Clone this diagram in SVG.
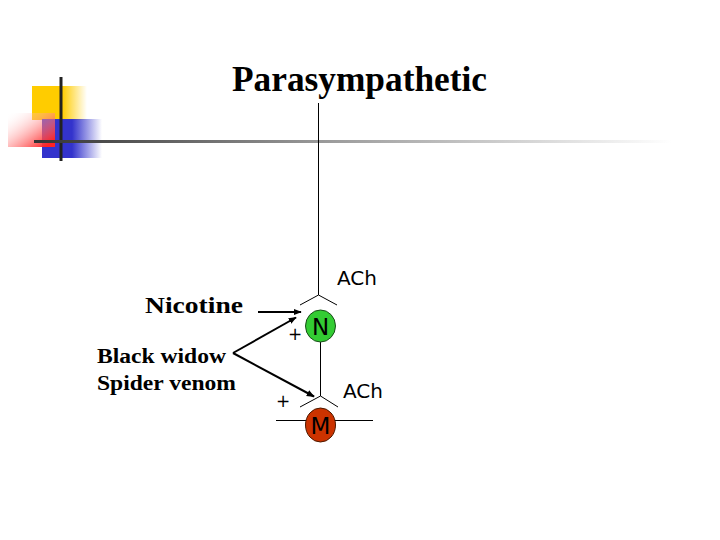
<svg xmlns="http://www.w3.org/2000/svg" width="720" height="540" viewBox="0 0 720 540">
<defs>
<linearGradient id="gY" x1="0" y1="0" x2="1" y2="0"><stop offset="0" stop-color="#ffcc00"/><stop offset="0.55" stop-color="#ffcc00"/><stop offset="1" stop-color="#ffcc00" stop-opacity="0"/></linearGradient>
<linearGradient id="gR" x1="0" y1="0" x2="1" y2="1"><stop offset="0" stop-color="#ffffff" stop-opacity="0"/><stop offset="0.9" stop-color="#ff2222"/></linearGradient>
<linearGradient id="gB" x1="0" y1="0" x2="1" y2="0"><stop offset="0" stop-color="#3333cc"/><stop offset="0.5" stop-color="#3333cc"/><stop offset="1" stop-color="#3333cc" stop-opacity="0"/></linearGradient>
<linearGradient id="gL" gradientUnits="userSpaceOnUse" x1="34" y1="0" x2="672" y2="0"><stop offset="0" stop-color="#333333"/><stop offset="0.45" stop-color="#999999"/><stop offset="1" stop-color="#ffffff"/></linearGradient>
<marker id="ah" viewBox="0 0 10 10" refX="9" refY="5" markerWidth="8" markerHeight="8" markerUnits="userSpaceOnUse" orient="auto"><path d="M0,1 L10,5 L0,9 z" fill="#000"/></marker>
</defs>
<style>
.serif{font-family:"Liberation Serif","Times New Roman",serif;font-weight:bold;fill:#000}
.sans{font-family:"DejaVu Sans","Verdana",sans-serif;fill:#000}
.ln{stroke:#000;stroke-width:1;fill:none}
.ar{stroke:#000;stroke-width:2;fill:none;marker-end:url(#ah)}
</style>
<rect width="720" height="540" fill="#fff"/>
<g id="decor">
<rect x="32" y="86" width="55" height="34" fill="url(#gY)"/>
<rect x="42" y="119" width="60" height="39" fill="url(#gB)"/>
<rect x="8" y="113" width="47" height="34" fill="url(#gR)"/>
<line x1="61" y1="77" x2="61" y2="161" stroke="#222" stroke-width="3"/>
<rect x="34" y="140" width="638" height="3" fill="url(#gL)"/>
</g>
<g id="title"><text class="serif" x="232" y="91" font-size="35" textLength="255" lengthAdjust="spacingAndGlyphs">Parasympathetic</text></g>
<g id="connectors">
<line class="ln" x1="318.5" y1="103" x2="318.5" y2="295"/>
<polyline class="ln" points="300,305 318.5,295 337,305"/>
<line class="ln" x1="320.5" y1="342" x2="320.5" y2="396"/>
<polyline class="ln" points="300,407 320.5,396 338,407"/>
<line class="ln" x1="276" y1="420.5" x2="373" y2="420.5"/>
<line class="ar" x1="258" y1="312" x2="301" y2="312"/>
<line class="ar" x1="233" y1="353" x2="296" y2="317.5"/>
<line class="ar" x1="233" y1="353" x2="314" y2="396.5"/>
</g>
<g id="N">
<ellipse cx="320.5" cy="326" rx="15" ry="16" fill="#33cc33" stroke="#1a4d1a" stroke-width="1"/>
<text class="sans" x="320.5" y="334.5" font-size="23" text-anchor="middle" fill="#222">N</text>
</g>
<g id="M">
<ellipse cx="320.5" cy="425" rx="15" ry="17" fill="#cc3300" stroke="#4d1a00" stroke-width="1"/>
<text class="sans" x="320.5" y="434" font-size="23" text-anchor="middle" fill="#222">M</text>
</g>
<g id="labels">
<text class="sans" x="337" y="285" font-size="20">ACh</text>
<text class="sans" x="343" y="398" font-size="20">ACh</text>
<text class="sans" x="295" y="340" font-size="17" text-anchor="middle">+</text>
<text class="sans" x="283" y="407" font-size="17" text-anchor="middle">+</text>
<text class="serif" x="145" y="313" font-size="24" textLength="98" lengthAdjust="spacingAndGlyphs">Nicotine</text>
<text class="serif" x="97" y="363" font-size="20" textLength="129" lengthAdjust="spacingAndGlyphs">Black widow</text>
<text class="serif" x="97" y="390" font-size="20" textLength="139" lengthAdjust="spacingAndGlyphs">Spider venom</text>
</g>
</svg>
